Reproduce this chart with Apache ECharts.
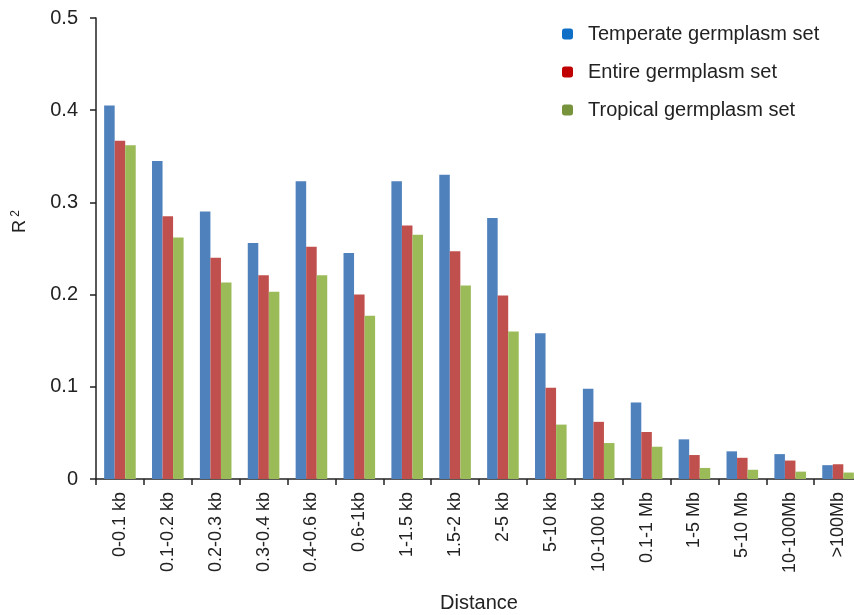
<!DOCTYPE html>
<html><head><meta charset="utf-8">
<script src="https://cdn.jsdelivr.net/npm/echarts@6/dist/echarts.min.js"></script>
<style>html,body{margin:0;padding:0;background:#fff}#c{width:854px;height:615px}</style>
</head><body><div id="c"></div>
<script>
const categories = ['0-0.1 kb','0.1-0.2 kb','0.2-0.3 kb','0.3-0.4 kb','0.4-0.6 kb','0.6-1kb','1-1.5 kb','1.5-2 kb','2-5 kb','5-10 kb','10-100 kb','0.1-1 Mb','1-5 Mb','5-10 Mb','10-100Mb','>100Mb'];
const temperate = [0.405,0.345,0.290,0.256,0.323,0.245,0.323,0.330,0.283,0.158,0.098,0.083,0.043,0.030,0.027,0.015];
const entire    = [0.367,0.285,0.240,0.221,0.252,0.200,0.275,0.247,0.199,0.099,0.062,0.051,0.026,0.023,0.020,0.016];
const tropical  = [0.362,0.262,0.213,0.203,0.221,0.177,0.265,0.210,0.160,0.059,0.039,0.035,0.012,0.010,0.008,0.007];
const seriesNames = ['Temperate germplasm set','Entire germplasm set','Tropical germplasm set'];
const yTicks = [0, 0.1, 0.2, 0.3, 0.4, 0.5];

const chart = echarts.init(document.getElementById('c'), null, {renderer:'canvas'});
const font = 'Liberation Sans, Arial, sans-serif';
chart.setOption({
  animation:false,
  textStyle:{fontFamily:font},
  legend:{
    orient:'vertical', left:557, top:19, itemWidth:11, itemHeight:11, itemGap:18,
    textStyle:{fontSize:20, color:'#222', fontFamily:font, padding:[0,0,0,10]},
    data:[
      {name:seriesNames[0], itemStyle:{color:'#0f6fc6'}},
      {name:seriesNames[1], itemStyle:{color:'#c00000'}},
      {name:seriesNames[2], itemStyle:{color:'#77933c'}}
    ]
  },
  grid:{left:96, right:-8, top:18, bottom:136, containLabel:false, outerBoundsMode:'none'},
  xAxis:{
    type:'category', data:categories,
    name:'Distance', nameLocation:'middle', nameGap:114,
    nameTextStyle:{fontSize:20, color:'#222', fontFamily:font},
    axisLine:{lineStyle:{color:'#222', width:1.5}},
    axisTick:{show:true, length:6, lineStyle:{color:'#222', width:1.5}},
    axisLabel:{rotate:90, fontSize:18, color:'#222', margin:13, fontFamily:font}
  },
  yAxis:{
    type:'value', min:0, max:0.5, interval:0.1,
    name:'{a|R}{b| 2}', nameLocation:'middle', nameGap:66, nameRotate:90,
    nameTextStyle:{padding:[0,0,0,54], rich:{a:{fontSize:18,color:'#222',fontFamily:font}, b:{fontSize:12,color:'#222',fontFamily:font, verticalAlign:'top', padding:[0,0,8,0]}}},
    splitLine:{show:false},
    axisLine:{show:true, lineStyle:{color:'#222', width:1.5}},
    axisTick:{show:true, length:6, inside:false, lineStyle:{color:'#222', width:1.5}},
    axisLabel:{fontSize:20, color:'#222', margin:18, fontFamily:font,
      formatter:v=>{const t=yTicks.find(x=>Math.abs(x-v)<1e-9);return t===0?'0':String(t);}}
  },
  series:[
    {name:seriesNames[0], type:'bar', data:temperate, barGap:'0%', barCategoryGap:'34%', itemStyle:{color:'#4f81bd'}},
    {name:seriesNames[1], type:'bar', data:entire, itemStyle:{color:'#c0504d'}},
    {name:seriesNames[2], type:'bar', data:tropical, itemStyle:{color:'#9bbb59'}}
  ]
});
</script></body></html>
